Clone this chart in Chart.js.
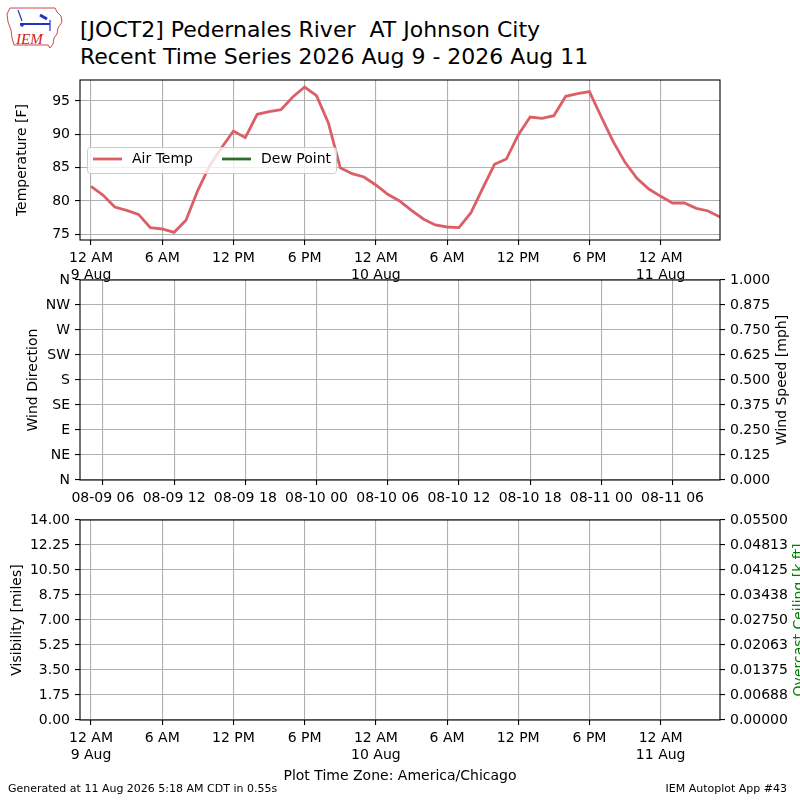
<!DOCTYPE html>
<html>
<head>
<meta charset="utf-8">
<script src="https://cdn.jsdelivr.net/npm/chart.js@4.4.1/dist/chart.umd.min.js"></script>
<style>
  body { margin: 0; background: #fff; width: 800px; height: 800px; position: relative; overflow: hidden; font-family: "DejaVu Sans", sans-serif; color: #000; }
  canvas { position: absolute; left: 0; }
  #logo { position: absolute; left: 0; top: 0; }
  #title { position: absolute; left: 80px; top: 16px; font-size: 22px; line-height: 27px; white-space: pre; }
  #tz { position: absolute; left: 0; width: 800px; top: 767px; font-size: 14px; line-height: 16px; text-align: center; }
  #gen { position: absolute; left: 8px; top: 782px; font-size: 11px; line-height: 13px; }
  #app { position: absolute; right: 13px; top: 782px; font-size: 11px; line-height: 13px; }
</style>
</head>
<body>
<svg id="logo" width="70" height="55">
  <path d="M10 8 L55 8 L57 12 L61 16 L62 22 L58 28 L57 34 L54 38 L53 44 L50 48 L48 45 L14 45 L12 38 L11 30 L8 22 L7 14 Z" fill="none" stroke="#d04848" stroke-width="1"/>
  <line x1="18" y1="10" x2="22" y2="21" stroke="#2233cc" stroke-width="1.2"/>
  <line x1="20" y1="24" x2="50" y2="24" stroke="#2233cc" stroke-width="2"/>
  <line x1="40" y1="15" x2="47" y2="19" stroke="#2233cc" stroke-width="3"/>
  <line x1="50" y1="20" x2="50" y2="31" stroke="#2233cc" stroke-width="1.2"/>
  <circle cx="22" cy="25" r="1.8" fill="#2233cc"/>
  <text x="16" y="44" font-family="Liberation Serif" font-style="italic" font-size="15" fill="#cc2222">IEM</text>
</svg>
<div id="title">[JOCT2] Pedernales River  AT Johnson City
Recent Time Series 2026 Aug 9 - 2026 Aug 11</div>
<canvas id="temp-canvas" width="800" height="215" style="top:70px"></canvas>
<canvas id="wind-canvas" width="800" height="245" style="top:270px"></canvas>
<canvas id="vis-canvas" width="800" height="290" style="top:510px"></canvas>
<div id="tz">Plot Time Zone: America/Chicago</div>
<div id="gen">Generated at 11 Aug 2026 5:18 AM CDT in 0.55s</div>
<div id="app">IEM Autoplot App #43</div>
<script>
// hours since 9 Aug 2026 00:00 CDT
const hours = [0, 1, 2, 3, 4, 5, 6, 7, 8, 9, 10, 11, 12, 13, 14, 15, 16, 17, 18, 19,
  20, 21, 22, 23, 24, 25, 26, 27, 28, 29, 30, 31, 32, 33, 34, 35, 36, 37, 38, 39,
  40, 41, 42, 43, 44, 45, 46, 47, 48, 49, 50, 51, 52, 53];
const airTemp = [82.2, 80.9, 79.1, 78.6, 78.0, 76.0, 75.8, 75.3, 77.1, 81.6,
  85.3, 88.0, 90.5, 89.5, 93.0, 93.4, 93.7, 95.6, 97.1, 95.8,
  91.7, 85.0, 84.1, 83.6, 82.4, 81.0, 80.0, 78.6, 77.3, 76.4,
  76.1, 76.0, 78.2, 81.9, 85.5, 86.3, 89.9, 92.6, 92.4, 92.8,
  95.7, 96.1, 96.4, 92.6, 88.9, 85.8, 83.4, 81.8, 80.7, 79.7,
  79.7, 78.9, 78.5, 77.6];
const dewPoint = [];

const localTicks = [0, 6, 12, 18, 24, 30, 36, 42, 48];
const localLabels = [['12 AM', '9 Aug'], '6 AM', '12 PM', '6 PM', ['12 AM', '10 Aug'], '6 AM', '12 PM', '6 PM', ['12 AM', '11 Aug']];
const utcTicks = [1, 7, 13, 19, 25, 31, 37, 43, 49];
const utcLabels = ['08-09 06', '08-09 12', '08-09 18', '08-10 00', '08-10 06', '08-10 12', '08-10 18', '08-11 00', '08-11 06'];

const tempTicks = [75, 80, 85, 90, 95];
const dirTicks = [0, 45, 90, 135, 180, 225, 270, 315, 360];
const dirLabels = ['N', 'NE', 'E', 'SE', 'S', 'SW', 'W', 'NW', 'N'];
const speedTicks = [0, 0.125, 0.25, 0.375, 0.5, 0.625, 0.75, 0.875, 1];
const speedLabels = ['0.000', '0.125', '0.250', '0.375', '0.500', '0.625', '0.750', '0.875', '1.000'];
const visTicks = [0, 1.75, 3.5, 5.25, 7, 8.75, 10.5, 12.25, 14];
const visLabels = ['0.00', '1.75', '3.50', '5.25', '7.00', '8.75', '10.50', '12.25', '14.00'];
const ceilTicks = [0, 0.006875, 0.01375, 0.020625, 0.0275, 0.034375, 0.04125, 0.048125, 0.055];
const ceilLabels = ['0.00000', '0.00688', '0.01375', '0.02063', '0.02750', '0.03438', '0.04125', '0.04813', '0.05500'];

const xMin = -0.93;
const xMax = 53;
const gridColor = '#b0b0b0';
const FONT = 'DejaVu Sans';

Chart.defaults.font.family = FONT;
Chart.defaults.font.size = 14;
Chart.defaults.color = '#000';

function fixedTicks(values) {
  return (scale) => { scale.ticks = values.map(v => ({ value: v })); };
}

function xAxis(ticks, labels, height) {
  return {
    type: 'linear', position: 'bottom', min: xMin, max: xMax,
    afterBuildTicks: fixedTicks(ticks),
    afterFit: (s) => { s.height = height; s.paddingLeft = 0; s.paddingRight = 0; },
    grid: { color: gridColor, lineWidth: 1.1, tickColor: '#000', tickLength: 5, tickWidth: 1.1 },
    border: { display: false },
    ticks: { padding: 5, maxRotation: 0, minRotation: 0, autoSkip: false, callback: (v, i) => labels[i] }
  };
}

function yAxis(position, min, max, ticks, labels, onChart) {
  return {
    type: 'linear', position: position, min: min, max: max,
    afterBuildTicks: fixedTicks(ticks),
    afterFit: (s) => { s.width = 80; s.paddingTop = 0; s.paddingBottom = 0; },
    grid: { color: gridColor, lineWidth: 1.1, tickColor: '#000', tickLength: 5, tickWidth: 1.1, drawOnChartArea: onChart },
    border: { display: false },
    ticks: { padding: 5, autoSkip: false, callback: (v, i) => labels[i] }
  };
}

// frame around plot area + rotated axis titles
function framePlugin(titles) {
  return {
    id: 'frame',
    afterDraw(chart) {
      const { ctx, chartArea: a } = chart;
      ctx.save();
      ctx.strokeStyle = '#000';
      ctx.lineWidth = 1.1;
      ctx.strokeRect(a.left, a.top, a.right - a.left, a.bottom - a.top);
      ctx.font = `14px "${FONT}"`;
      ctx.textAlign = 'center';
      ctx.textBaseline = 'middle';
      titles.forEach(t => {
        ctx.save();
        ctx.translate(t.x, (a.top + a.bottom) / 2);
        ctx.rotate(-Math.PI / 2);
        ctx.fillStyle = t.color || '#000';
        ctx.fillText(t.text, 0, 0);
        ctx.restore();
      });
      ctx.restore();
    }
  };
}

const legendPlugin = {
  id: 'boxLegend',
  afterDatasetsDraw(chart) {
    const ctx = chart.ctx;
    ctx.save();
    ctx.beginPath();
    ctx.roundRect(87.5, 77.5, 249, 26, 3);
    ctx.fillStyle = 'rgba(255,255,255,0.8)';
    ctx.fill();
    ctx.strokeStyle = '#cccccc';
    ctx.lineWidth = 1;
    ctx.stroke();
    ctx.font = `14px "${FONT}"`;
    ctx.textBaseline = 'middle';
    chart.data.datasets.forEach((ds, i) => {
      const x0 = i === 0 ? 93 : 222;
      ctx.strokeStyle = ds.borderColor;
      ctx.lineWidth = 2.8;
      ctx.beginPath();
      ctx.moveTo(x0, 89);
      ctx.lineTo(x0 + 29, 89);
      ctx.stroke();
      ctx.fillStyle = '#000';
      ctx.fillText(ds.label, x0 + 39, 89.5);
    });
    ctx.restore();
  }
};

new Chart(document.getElementById('temp-canvas'), {
  type: 'line',
  data: {
    datasets: [
      { label: 'Air Temp', data: hours.map((h, i) => ({ x: h, y: airTemp[i] })), borderColor: '#dc5f66', borderWidth: 2.8, pointRadius: 0, tension: 0 },
      { label: 'Dew Point', data: dewPoint, borderColor: '#2f6b2f', borderWidth: 2.8, pointRadius: 0 }
    ]
  },
  options: {
    responsive: false, animation: false, devicePixelRatio: 1, parsing: false,
    layout: { padding: { top: 10, left: 0, right: 80, bottom: 0 } },
    plugins: { legend: { display: false }, tooltip: { enabled: false } },
    scales: {
      x: xAxis(localTicks, localLabels, 45),
      y: yAxis('left', 74.15, 98.15, tempTicks, tempTicks.map(String), true)
    }
  },
  plugins: [legendPlugin, framePlugin([{ text: 'Temperature [F]', x: 22 }])]
});

new Chart(document.getElementById('wind-canvas'), {
  type: 'line',
  data: { datasets: [] },
  options: {
    responsive: false, animation: false, devicePixelRatio: 1,
    layout: { padding: { top: 10, left: 0, right: 0, bottom: 0 } },
    plugins: { legend: { display: false }, tooltip: { enabled: false } },
    scales: {
      x: xAxis(utcTicks, utcLabels, 35),
      y: yAxis('left', 0, 360, dirTicks, dirLabels, true),
      y2: yAxis('right', 0, 1, speedTicks, speedLabels, false)
    }
  },
  plugins: [framePlugin([{ text: 'Wind Direction', x: 33 }, { text: 'Wind Speed [mph]', x: 782 }])]
});

new Chart(document.getElementById('vis-canvas'), {
  type: 'line',
  data: { datasets: [] },
  options: {
    responsive: false, animation: false, devicePixelRatio: 1,
    layout: { padding: { top: 10, left: 0, right: 0, bottom: 0 } },
    plugins: { legend: { display: false }, tooltip: { enabled: false } },
    scales: {
      x: xAxis(localTicks, localLabels, 80),
      y: yAxis('left', 0, 14, visTicks, visLabels, true),
      y2: yAxis('right', 0, 0.055, ceilTicks, ceilLabels, false)
    }
  },
  plugins: [framePlugin([{ text: 'Visibility [miles]', x: 17 }, { text: 'Overcast Ceiling [k ft]', x: 799, color: '#008000' }])]
});
</script>
</body>
</html>
